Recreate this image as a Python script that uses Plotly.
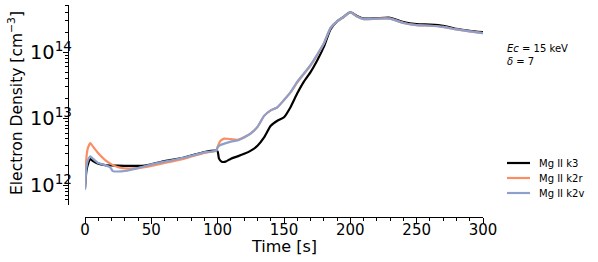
import plotly.graph_objects as go

t_k3 = [0, 1, 2, 4, 6, 10, 15, 20, 30, 40, 45, 50, 60, 75, 90, 99, 100, 101, 103, 106, 110, 115, 120, 125, 130, 135, 140, 145, 150, 155, 160, 165, 170, 175, 180, 185, 190, 195, 200, 205, 210, 220, 230, 240, 250, 260, 270, 280, 290, 300]
n_k3 = [0.9e12, 1.6e12, 2.0e12, 2.45e12, 2.3e12, 2.1e12, 2.0e12, 1.97e12, 1.95e12, 1.95e12, 1.97e12, 2.05e12, 2.3e12, 2.6e12, 3.15e12, 3.3e12, 3.2e12, 2.5e12, 2.25e12, 2.25e12, 2.5e12, 2.7e12, 2.95e12, 3.3e12, 3.9e12, 5.2e12, 7.8e12, 9.3e12, 1.05e13, 1.5e13, 2.4e13, 3.6e13, 5.0e13, 7.5e13, 1.2e14, 2.2e14, 2.9e14, 3.4e14, 4.0e14, 3.5e14, 3.2e14, 3.25e14, 3.3e14, 2.85e14, 2.65e14, 2.6e14, 2.5e14, 2.25e14, 2.1e14, 2.0e14]

t_k2r = [0, 1, 2, 4, 6, 10, 15, 20, 25, 30, 40, 50, 60, 75, 90, 99, 100, 102, 105, 110, 115, 120, 125, 130, 135, 140, 145, 150, 155, 160, 165, 170, 175, 180, 185, 190, 195, 200, 205, 210, 220, 230, 240, 250, 260, 270, 280, 290, 300]
n_k2r = [0.9e12, 2.5e12, 3.5e12, 4.3e12, 3.8e12, 3.0e12, 2.4e12, 2.05e12, 1.85e12, 1.78e12, 1.8e12, 1.95e12, 2.15e12, 2.5e12, 3.05e12, 3.3e12, 3.8e12, 4.6e12, 5.0e12, 4.9e12, 4.8e12, 5.3e12, 6.0e12, 7.5e12, 1.1e13, 1.33e13, 1.48e13, 1.9e13, 2.5e13, 3.5e13, 4.7e13, 6.3e13, 9.0e13, 1.35e14, 2.3e14, 2.9e14, 3.4e14, 4.0e14, 3.45e14, 3.15e14, 3.2e14, 3.2e14, 2.75e14, 2.55e14, 2.5e14, 2.4e14, 2.2e14, 2.05e14, 1.93e14]

t_k2v = [0, 1, 2, 4, 6, 10, 15, 19, 21, 25, 30, 40, 50, 60, 75, 90, 99, 100, 102, 105, 110, 115, 120, 125, 130, 135, 140, 145, 150, 155, 160, 165, 170, 175, 180, 185, 190, 195, 200, 205, 210, 220, 230, 240, 250, 260, 270, 280, 290, 300]
n_k2v = [0.85e12, 1.8e12, 2.3e12, 2.7e12, 2.5e12, 2.15e12, 2.0e12, 1.85e12, 1.62e12, 1.6e12, 1.63e12, 1.8e12, 2.05e12, 2.25e12, 2.6e12, 3.1e12, 3.3e12, 3.7e12, 4.0e12, 4.2e12, 4.5e12, 4.7e12, 5.2e12, 6.0e12, 7.5e12, 1.1e13, 1.33e13, 1.48e13, 1.9e13, 2.5e13, 3.6e13, 4.8e13, 6.4e13, 9.2e13, 1.35e14, 2.3e14, 2.9e14, 3.4e14, 4.0e14, 3.45e14, 3.15e14, 3.2e14, 3.2e14, 2.75e14, 2.55e14, 2.5e14, 2.4e14, 2.2e14, 2.05e14, 1.93e14]

series_names = ["Mg II k3", "Mg II k2r", "Mg II k2v"]
series_colors = ["black", "#fc8d62", "#8da0cb"]
x_ticks = [0, 50, 100, 150, 200, 250, 300]

W, H = 598, 262
FONT = "DejaVu Sans"

fig = go.Figure()
for name, t, n, c in zip(series_names, [t_k3, t_k2r, t_k2v], [n_k3, n_k2r, n_k2v], series_colors):
    fig.add_trace(go.Scatter(x=t, y=n, mode="lines", name=name, showlegend=False,
                             line=dict(color=c, width=2.2, shape="spline", smoothing=0.5)))

x0, x1 = 85, 483
ytop, ybot = 5, 205
fig.update_layout(
    width=W, height=H,
    margin=dict(l=0, r=0, t=0, b=0),
    paper_bgcolor="white", plot_bgcolor="white",
    font=dict(family=FONT, color="black", size=15),
    showlegend=False,
    xaxis=dict(domain=[x0 / W, x1 / W], anchor="free", position=1 - 217 / H,
               range=[0, 300], tickvals=x_ticks, ticks="outside", ticklen=6,
               tickwidth=1, tickcolor="black", showline=True, linecolor="black",
               linewidth=1, showgrid=False, zeroline=False, automargin=False,
               tickfont=dict(size=15), ticklabelstandoff=-7,
               minor=dict(ticks="outside", ticklen=3, dtick=10, tickcolor="black", tickwidth=1, showgrid=False)),
    yaxis=dict(domain=[1 - ybot / H, 1 - ytop / H], anchor="free", position=68 / W,
               type="log", range=[11.70, 14.71], dtick=1, exponentformat="power",
               ticks="outside", ticklen=5, tickwidth=1, tickcolor="black",
               showline=True, linecolor="black", linewidth=1, showgrid=False,
               zeroline=False, automargin=False, tickfont=dict(size=15.5),
               ticklabelstandoff=-12,
               minor=dict(ticks="outside", ticklen=3, dtick="D1", tickcolor="black", tickwidth=1, showgrid=False)),
)

# axis titles
fig.add_annotation(xref="paper", yref="paper", x=284 / W, y=1 - 246 / H,
                   xanchor="center", yanchor="middle", showarrow=False,
                   text="Time [s]", font=dict(size=16, family=FONT, color="black"))
fig.add_annotation(xref="paper", yref="paper", x=15 / W, y=1 - 103 / H,
                   xanchor="center", yanchor="middle", showarrow=False, textangle=-90,
                   text="Electron Density [cm<sup>−3</sup>]",
                   font=dict(size=15.5, family=FONT, color="black"))

# text box
fig.add_annotation(xref="paper", yref="paper", x=505 / W, y=1 - 41 / H,
                   xanchor="left", yanchor="top", align="left", showarrow=False,
                   text="<i>Ec</i> = 15 keV<br><i>δ</i> = 7",
                   font=dict(size=10, family=FONT, color="black"))

# legend drawn by hand
for i, (name, c) in enumerate(zip(series_names, series_colors)):
    yy = 1 - (163 + 15 * i) / H
    fig.add_shape(type="line", xref="paper", yref="paper", x0=507 / W, x1=530 / W,
                  y0=yy, y1=yy, line=dict(color=c, width=2.2))
    fig.add_annotation(xref="paper", yref="paper", x=537 / W, y=yy,
                       xanchor="left", yanchor="middle", showarrow=False,
                       text=name, font=dict(size=10, family=FONT, color="black"))

fig.write_html("out.html", config={"displayModeBar": False},
               post_script="document.body.style.margin='0';document.body.style.overflow='hidden';")
